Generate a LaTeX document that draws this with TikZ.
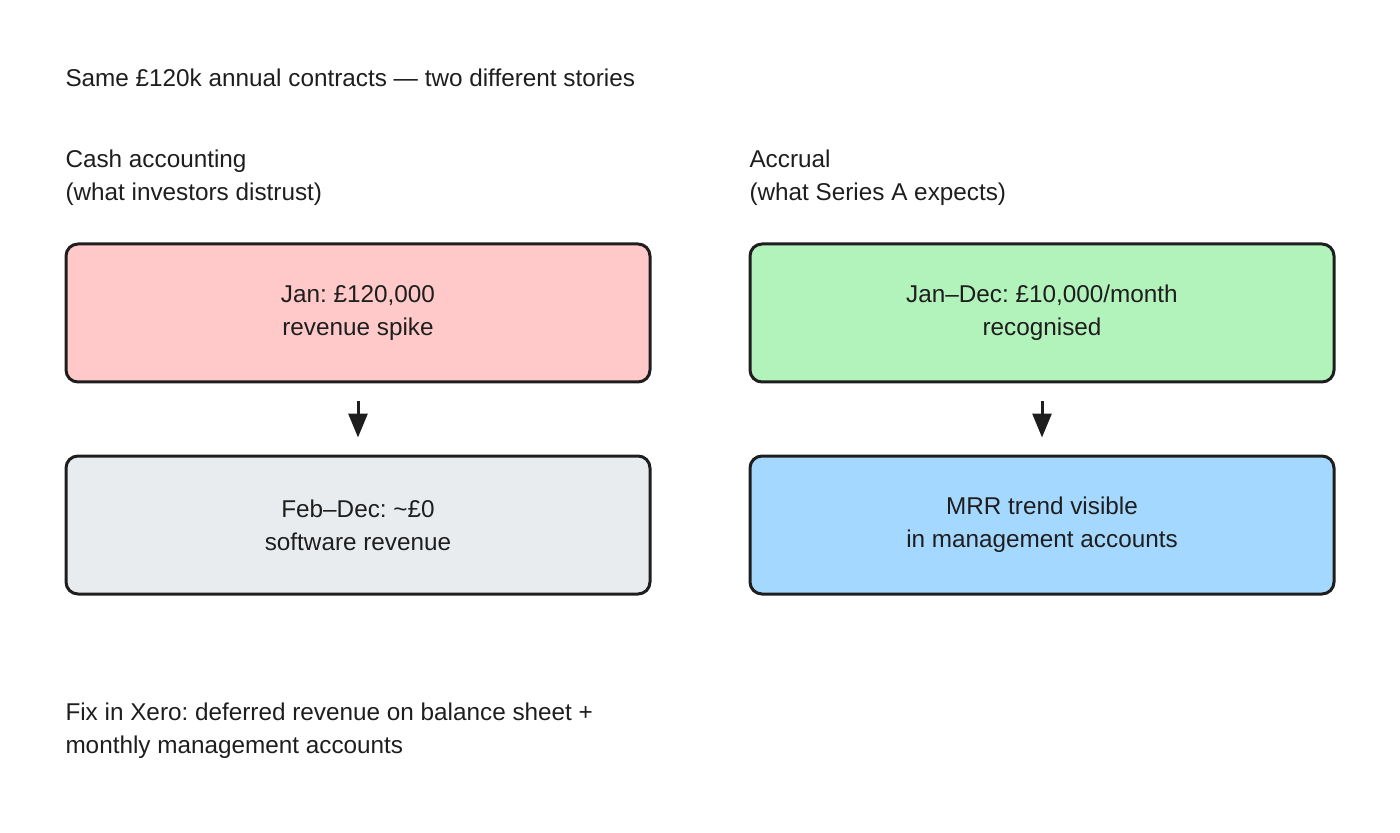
\documentclass[tikz,border=0pt]{standalone}
\usepackage{fontspec}
\setmainfont{Liberation Sans}
\frenchspacing
\usetikzlibrary{arrows.meta, positioning}
\definecolor{cink}{HTML}{1E1E1E}
\definecolor{cred}{HTML}{FFC9C9}
\definecolor{cgreen}{HTML}{B2F2BB}
\definecolor{cgrey}{HTML}{E9ECEF}
\definecolor{cblue}{HTML}{A5D8FF}
\tikzset{
  every picture/.style={font=\fontsize{12.15}{16.5}\selectfont, text=cink, line width=1.5pt},
  box/.style={draw=cink, fill=#1, rounded corners=6pt, align=center, minimum width=292pt, minimum height=69pt, inner sep=0pt},
  box/.default=cgrey,
  arrow/.style={-{Triangle[length=12pt, width=9.5pt]}, draw=cink, shorten <=9pt, shorten >=8.5pt},
  label/.style={anchor=west, align=left, inner sep=0pt},
}
\begin{document}
\begin{tikzpicture}[x=0.5pt, y=-0.5pt]
  \useasboundingbox (0,0) rectangle (1400,833);
  \node[label] (title) at (64,78) {Same £120k annual contracts — two different stories};
  % cash side
  \node[label] (cashhead) at (64,177.5) {Cash accounting\\(what investors distrust)};
  \node[box=cred] (cashjan) at (358,313) {Jan: £120,000\\revenue spike};
  \node[box=cgrey] (cashrest) at (358,525) {Feb–Dec: \textasciitilde£0\\software revenue};
  \draw[arrow] (cashjan) -- (cashrest);
  % accrual side
  \node[label] (accrhead) at (748,177.5) {Accrual\\(what Series A expects)};
  \node[box=cgreen] (accrmonth) at (1042,313) {Jan–Dec: £10,000/month\\recognised};
  \node[box=cblue] (accrmrr) at (1042,525) {MRR trend visible\\in management accounts};
  \draw[arrow] (accrmonth) -- (accrmrr);
  \node[label] (fix) at (64,730.5) {Fix in Xero: deferred revenue on balance sheet +\\monthly management accounts};
\end{tikzpicture}
\end{document}
